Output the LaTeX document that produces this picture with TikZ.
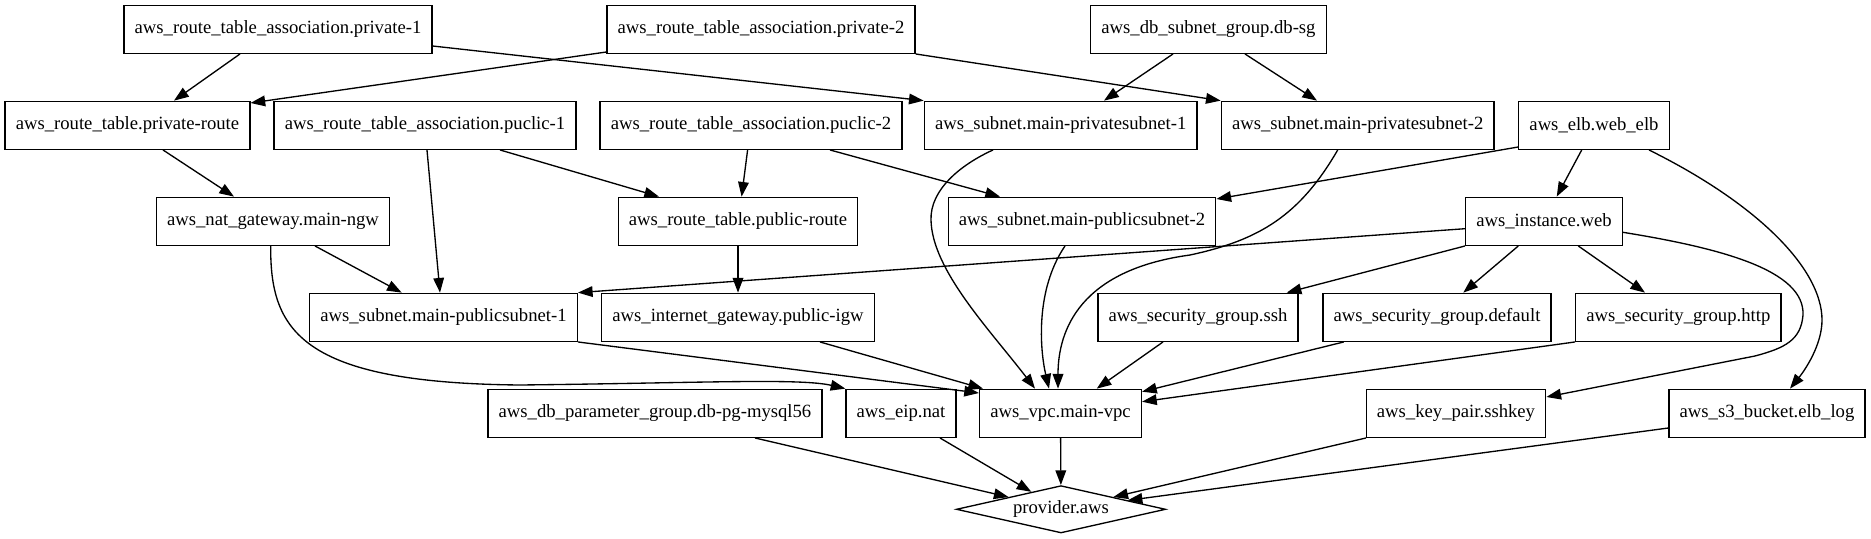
\documentclass[tikz,border=0pt]{standalone}
\usepackage{fontspec}
\setmainfont{Liberation Serif}
\usetikzlibrary{arrows.meta,shapes.geometric}
\begin{document}
\begin{tikzpicture}[x=0.75pt,y=-0.75pt,
  box/.style={draw,line width=1pt,rectangle,minimum height=36pt,inner xsep=8pt,inner ysep=0pt,font=\fontsize{14}{16}\selectfont},
  dia/.style={draw,line width=1pt,diamond,shape aspect=4.4,minimum width=157pt,minimum height=35.5pt,inner sep=0pt,font=\fontsize{14}{16}\selectfont},
  edge/.style={line width=1pt,-{Triangle[length=11pt,width=8pt]}}]
\useasboundingbox (0,0) rectangle (1871,539);
% rank 1
\node[box] (p1) at (278,29.3) {aws\_route\_table\_association.private-1};
\node[box] (p2) at (761,29.3) {aws\_route\_table\_association.private-2};
\node[box] (dbsg) at (1208.5,29.3) {aws\_db\_subnet\_group.db-sg};
% rank 2
\node[box] (prr) at (127.5,125.3) {aws\_route\_table.private-route};
\node[box] (pu1) at (425,125.3) {aws\_route\_table\_association.puclic-1};
\node[box] (pu2) at (751,125.3) {aws\_route\_table\_association.puclic-2};
\node[box] (ps1) at (1060.7,125.3) {aws\_subnet.main-privatesubnet-1};
\node[box] (ps2) at (1357.7,125.3) {aws\_subnet.main-privatesubnet-2};
\node[box] (elb) at (1594,125.3) {aws\_elb.web\_elb};
% rank 3
\node[box] (nat) at (273,221.3) {aws\_nat\_gateway.main-ngw};
\node[box] (pbr) at (738,221.3) {aws\_route\_table.public-route};
\node[box] (pbs2) at (1082,221.3) {aws\_subnet.main-publicsubnet-2};
\node[box] (web) at (1544,221.3) {aws\_instance.web};
% rank 4
\node[box] (pbs1) at (443.5,317.3) {aws\_subnet.main-publicsubnet-1};
\node[box] (igw) at (738,317.3) {aws\_internet\_gateway.public-igw};
\node[box] (ssh) at (1198,317.3) {aws\_security\_group.ssh};
\node[box] (sgd) at (1437,317.3) {aws\_security\_group.default};
\node[box] (http) at (1678.3,317.3) {aws\_security\_group.http};
% rank 5
\node[box] (dbpg) at (655,413.3) {aws\_db\_parameter\_group.db-pg-mysql56};
\node[box] (eip) at (901,413.3) {aws\_eip.nat};
\node[box] (vpc) at (1060.5,413.3) {aws\_vpc.main-vpc};
\node[box] (kp) at (1456,413.3) {aws\_key\_pair.sshkey};
\node[box] (s3) at (1767,413.3) {aws\_s3\_bucket.elb\_log};
% rank 6
\node[dia] (prov) at (1061,509.3) {provider.aws};

% edges
\draw[edge] (p1.south -| 240,0) -- (prr.north -| 174,0);
\draw[edge] (p1.east |- 0,46) -- (ps1.north west);
\draw[edge] (p2.west |- 0,52) -- (prr.east |- 0,103);
\draw[edge] (p2.south east) -- (ps2.north west);
\draw[edge] (dbsg.south -| 1173,0) -- (ps1.north -| 1104,0);
\draw[edge] (dbsg.south -| 1245,0) -- (ps2.north -| 1317,0);
\draw[edge] (prr.south -| 163,0) -- (nat.north -| 234,0);
\draw[edge] (pu1.south -| 500,0) -- (pbr.north -| 659,0);
\draw[edge] (pu1.south -| 427,0) -- (pbs1.north -| 440,0);
\draw[edge] (pu2.south -| 747.6,0) -- (pbr.north -| 741.6,0);
\draw[edge] (pu2.south -| 830,0) -- (pbs2.north -| 1000,0);
\draw[edge] (elb.west |- 0,147) -- (pbs2.east |- 0,199);
\draw[edge] (elb.south -| 1581.7,0) -- (web.north -| 1556.7,0);
\draw[edge] (elb.south -| 1649,0) .. controls (1760,205) and (1822,270) .. (1822,320) .. controls (1822,345) and (1805,370) .. (s3.north -| 1790,0);
\draw[edge] (ps1.south -| 993,0) .. controls (960,165) and (930,190) .. (931,220) .. controls (932,270) and (990,330) .. (vpc.north -| 1035,0);
\draw[edge] (ps2.south -| 1337.7,0) .. controls (1300,215) and (1260,240) .. (1190,255) .. controls (1080,270) and (1058,330) .. (vpc.north -| 1058,0);
\draw[edge] (pbs2.south -| 1065,0) .. controls (1035,290) and (1040,350) .. (vpc.north -| 1049,0);
\draw[edge] (nat.south -| 315,0) -- (pbs1.north -| 401.7,0);
\draw[edge] (nat.south -| 270.7,0) .. controls (270,330) and (300,383) .. (520,385) .. controls (700,383) and (800,378) .. (eip.north west);
\draw[edge] (pbr.south) -- (igw.north);
\draw[edge] (web.west |- 0,228.7) -- (pbs1.north east);
\draw[edge] (web.south west) -- (ssh.north -| 1286.7,0);
\draw[edge] (web.south -| 1518.3,0) -- (sgd.north -| 1463.3,0);
\draw[edge] (web.south -| 1578.3,0) -- (http.north -| 1645,0);
\draw[edge] (web.east |- 0,232.3) .. controls (1720,248) and (1805,270) .. (1803,315) .. controls (1801,340) and (1785,348) .. (1755,356) -- (kp.east |- 0,397);
\draw[edge] (pbs1.south east) -- (vpc.west |- 0,393);
\draw[edge] (igw.south -| 820,0) -- (vpc.north -| 983,0);
\draw[edge] (ssh.south -| 1163,0) -- (vpc.north -| 1096.7,0);
\draw[edge] (sgd.south -| 1343.7,0) -- (vpc.east |- 0,391.7);
\draw[edge] (http.south west) -- (vpc.east |- 0,401.7);
\draw[edge] (dbpg.south -| 755,0) -- (prov);
\draw[edge] (eip.south -| 940,0) -- (prov);
\draw[edge] (vpc) -- (prov);
\draw[edge] (kp.south -| 1366,0) -- (prov);
\draw[edge] (s3.west |- 0,428) -- (prov);
\end{tikzpicture}
\end{document}
